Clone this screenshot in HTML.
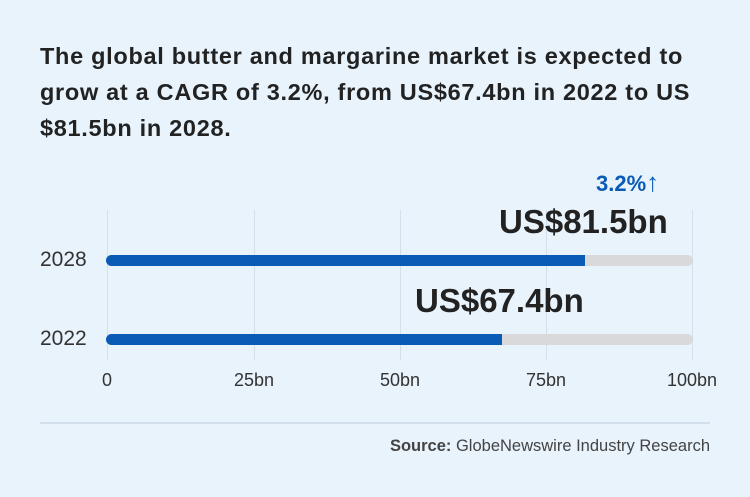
<!DOCTYPE html>
<html><head><style>
body{margin:0;width:750px;height:497px;background:#e8f3fc;font-family:"Liberation Sans",sans-serif;position:relative;overflow:hidden;color:#1f2329}
.a{position:absolute;white-space:nowrap}
.t{left:40px;top:38px;width:700px;font-size:23.5px;font-weight:bold;line-height:36px;color:#222;letter-spacing:0.7px}
.g{width:1px;background:#d3dfea;top:210px;height:150px}
.tr{height:11px;border-radius:6px;background:#d9d9db;left:106px;width:587px}
.b{height:11px;border-radius:6px 0 0 6px;background:#0a5bb5;left:106px}
.tk{top:370px;font-size:18px;color:#333;transform:translateX(-50%)}
.y{left:40px;font-size:21px;color:#333}
.v{font-size:33px;font-weight:bold;color:#222}
</style></head><body>
<div class="a t">The global butter and margarine market is expected to<br>grow at a CAGR of 3.2%, from US$67.4bn in 2022 to US<br>$81.5bn in 2028.</div>
<div class="a g" style="left:107px"></div>
<div class="a g" style="left:254px"></div>
<div class="a g" style="left:400px"></div>
<div class="a g" style="left:546px"></div>
<div class="a g" style="left:692px"></div>
<div class="a" style="left:596px;top:171px;font-size:22px;font-weight:bold;color:#0a5bb5">3.2%<span style="font-size:26px;line-height:22px">↑</span></div>
<div class="a v" style="left:499px;top:203px">US$81.5bn</div>
<div class="a v" style="left:415px;top:282px">US$67.4bn</div>
<div class="a y" style="top:248px">2028</div>
<div class="a y" style="top:327px">2022</div>
<div class="a tr" style="top:255px"></div>
<div class="a b" style="top:255px;width:479px"></div>
<div class="a tr" style="top:334px"></div>
<div class="a b" style="top:334px;width:396px"></div>
<div class="a tk" style="left:107px">0</div>
<div class="a tk" style="left:254px">25bn</div>
<div class="a tk" style="left:400px">50bn</div>
<div class="a tk" style="left:546px">75bn</div>
<div class="a tk" style="left:692px">100bn</div>
<div class="a" style="left:40px;top:422px;width:670px;height:2px;background:#d3dfea"></div>
<div class="a" style="right:40px;top:437px;font-size:16.5px;color:#444"><b>Source:</b> GlobeNewswire Industry Research</div>
</body></html>
